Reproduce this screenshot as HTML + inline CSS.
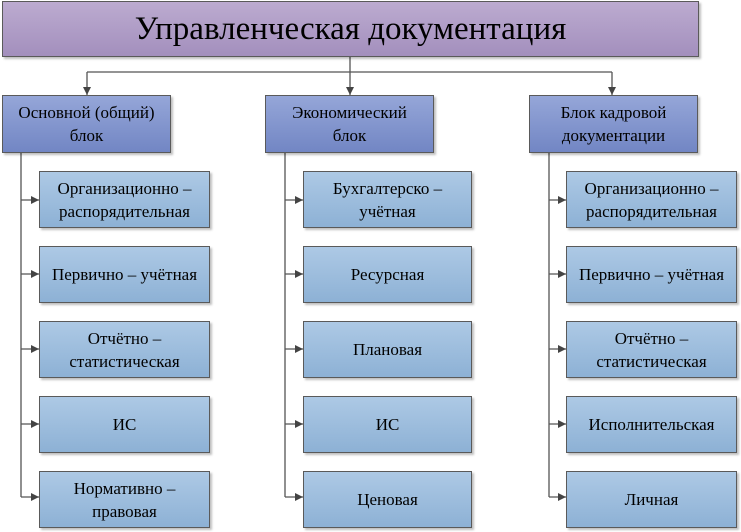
<!DOCTYPE html>
<html><head><meta charset="utf-8"><style>
body{margin:0;width:741px;height:532px;background:#fff;position:relative;overflow:hidden;color:#000}
.b{position:absolute;box-sizing:border-box;border:1px solid #5a5a5a;display:flex;align-items:center;justify-content:center;text-align:center;line-height:23px;box-shadow:2px 2px 2px rgba(0,0,0,0.25);font-family:"Liberation Serif","Times New Roman",Times,"DejaVu Serif",serif}
.t{left:2px;top:1px;width:697px;height:56px;background:linear-gradient(#bcabd0,#a38fbd);font-size:33px}
.h{width:169px;height:58px;top:95px;background:linear-gradient(#95a6d8,#7286c4);font-size:17px}
.c{width:171px;height:57px;background:linear-gradient(#adc9e5,#8db1d5);font-size:17px}
svg{position:absolute;left:0;top:0}
</style></head><body>
<svg width="741" height="532">
<defs><marker id="a" markerWidth="8" markerHeight="8" refX="8" refY="4" orient="auto" markerUnits="userSpaceOnUse"><path d="M0,0 L8,4 L0,8z" fill="#444"/></marker></defs>
<g stroke="#555" stroke-width="1.3" fill="none">
<path d="M350 57 V95" marker-end="url(#a)"/>
<path d="M87 72 H612"/>
<path d="M87 72 V95" marker-end="url(#a)"/>
<path d="M612 72 V95" marker-end="url(#a)"/>
<path d="M21 153 V497"/><path d="M285 153 V497"/><path d="M549 153 V497"/>
<path d="M21 200 H39" marker-end="url(#a)"/><path d="M21 274 H39" marker-end="url(#a)"/><path d="M21 349 H39" marker-end="url(#a)"/><path d="M21 424 H39" marker-end="url(#a)"/><path d="M21 497 H39" marker-end="url(#a)"/>
<path d="M285 200 H303" marker-end="url(#a)"/><path d="M285 274 H303" marker-end="url(#a)"/><path d="M285 349 H303" marker-end="url(#a)"/><path d="M285 424 H303" marker-end="url(#a)"/><path d="M285 497 H303" marker-end="url(#a)"/>
<path d="M549 200 H566" marker-end="url(#a)"/><path d="M549 274 H566" marker-end="url(#a)"/><path d="M549 349 H566" marker-end="url(#a)"/><path d="M549 424 H566" marker-end="url(#a)"/><path d="M549 497 H566" marker-end="url(#a)"/>
</g></svg>
<div class="b t">Управленческая документация</div>
<div class="b h" style="left:2px">Основной (общий)<br>блок</div>
<div class="b h" style="left:265px">Экономический<br>блок</div>
<div class="b h" style="left:529px">Блок кадровой<br>документации</div>

<div class="b c" style="left:39px;top:171px">Организационно –<br>распорядительная</div>
<div class="b c" style="left:39px;top:246px">Первично – учётная</div>
<div class="b c" style="left:39px;top:321px">Отчётно –<br>статистическая</div>
<div class="b c" style="left:39px;top:396px">ИС</div>
<div class="b c" style="left:39px;top:471px">Нормативно –<br>правовая</div>

<div class="b c" style="left:303px;top:171px;width:169px">Бухгалтерско –<br>учётная</div>
<div class="b c" style="left:303px;top:246px;width:169px">Ресурсная</div>
<div class="b c" style="left:303px;top:321px;width:169px">Плановая</div>
<div class="b c" style="left:303px;top:396px;width:169px">ИС</div>
<div class="b c" style="left:303px;top:471px;width:169px">Ценовая</div>

<div class="b c" style="left:566px;top:171px">Организационно –<br>распорядительная</div>
<div class="b c" style="left:566px;top:246px">Первично – учётная</div>
<div class="b c" style="left:566px;top:321px">Отчётно –<br>статистическая</div>
<div class="b c" style="left:566px;top:396px">Исполнительская</div>
<div class="b c" style="left:566px;top:471px">Личная</div>
</body></html>
